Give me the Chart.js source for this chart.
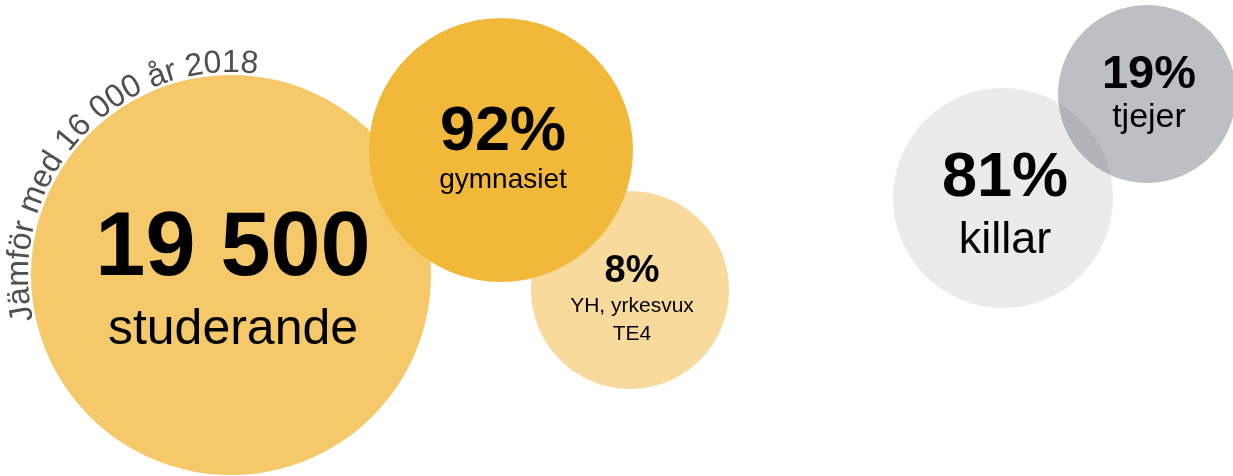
<!DOCTYPE html>
<html>
<head>
<meta charset="utf-8">
<script src="https://cdn.jsdelivr.net/npm/chart.js@4/dist/chart.umd.min.js"></script>
<style>
  body { margin: 0; background: #fff; }
  #wrap { width: 1233px; height: 476px; position: relative; }
</style>
</head>
<body>
<div id="wrap"><canvas id="bubbles"></canvas></div>
<script>
// data
const bubbleNames = ['studerande', 'YH, yrkesvux\nTE4', 'gymnasiet', 'killar', 'tjejer'];
const bubbleValues = [19500, 8, 92, 81, 19];
const bubbleUnits = ['', '%', '%', '%', '%'];
const compareNote = 'Jämför med 16 000 år 2018';

// layout (pixels, x/y axes run 0..1233 / 0..476)
const centerX = [231, 630, 501, 1003, 1147];
const centerY = [275, 290, 150, 198, 94];
const radius = [200, 99, 132, 110, 89];
const colors = ['#F5C96A', '#F8DA9D', '#F2B83A', '#EBEBEB', 'rgba(100,106,116,0.43)'];

// text style per bubble: value font size, label font size, value baseline dy, label baseline dy, line height
const valueSize = [90, 38, 63, 63, 47];
const labelSize = [50, 21, 28, 45, 34];
const valueDy = [0, -8, 0, -2, -6];
const labelDy = [69, 22, 38, 55, 33];
const lineGap = [0, 28, 0, 0, 0];

const FONT = '"Liberation Sans", Arial, Helvetica, sans-serif';

function fmt(v, unit) {
  if (unit === '%') return v + '%';
  return String(v).replace(/\B(?=(\d{3})+(?!\d))/g, ' ');
}

const bubbleText = {
  id: 'bubbleText',
  afterDatasetsDraw(chart) {
    const ctx = chart.ctx;
    const meta = chart.getDatasetMeta(0);
    ctx.save();
    ctx.textAlign = 'center';
    ctx.textBaseline = 'alphabetic';
    ctx.fillStyle = '#000';
    meta.data.forEach((el, i) => {
      ctx.font = 'bold ' + valueSize[i] + 'px ' + FONT;
      ctx.fillText(fmt(bubbleValues[i], bubbleUnits[i]), el.x + 2, el.y + valueDy[i]);
      ctx.font = labelSize[i] + 'px ' + FONT;
      bubbleNames[i].split('\n').forEach((line, k) => {
        ctx.fillText(line, el.x + 2, el.y + labelDy[i] + k * lineGap[i]);
      });
    });

    // curved note round the big bubble
    const big = meta.data[0];
    const r = radius[0] + 3;
    const start = 167.2 * Math.PI / 180;
    const end = 277.5 * Math.PI / 180;
    ctx.font = '32px ' + FONT;
    ctx.fillStyle = '#505050';
    const chars = compareNote.split('');
    const widths = chars.map(c => ctx.measureText(c).width);
    const total = widths.reduce((a, b) => a + b, 0);
    const extra = ((end - start) * r - total) / (chars.length - 1);
    let a = start;
    chars.forEach((c, k) => {
      const mid = a + widths[k] / 2 / r;
      ctx.save();
      ctx.translate(big.x + r * Math.cos(mid), big.y + r * Math.sin(mid));
      ctx.rotate(mid + Math.PI / 2);
      ctx.fillText(c, 0, 0);
      ctx.restore();
      a += (widths[k] + extra) / r;
    });
    ctx.restore();
  }
};

new Chart(document.getElementById('bubbles'), {
  type: 'bubble',
  data: {
    datasets: [{
      data: centerX.map((x, i) => ({ x: x, y: centerY[i], r: radius[i] })),
      backgroundColor: colors,
      borderWidth: 0,
      hoverBorderWidth: 0
    }]
  },
  options: {
    responsive: true,
    maintainAspectRatio: false,
    animation: false,
    events: [],
    clip: false,
    layout: { padding: 0, autoPadding: false },
    plugins: { legend: { display: false }, tooltip: { enabled: false } },
    scales: {
      x: { type: 'linear', min: 0, max: 1233, display: false },
      y: { type: 'linear', min: 0, max: 476, reverse: true, display: false }
    }
  },
  plugins: [bubbleText]
});
</script>
</body>
</html>
